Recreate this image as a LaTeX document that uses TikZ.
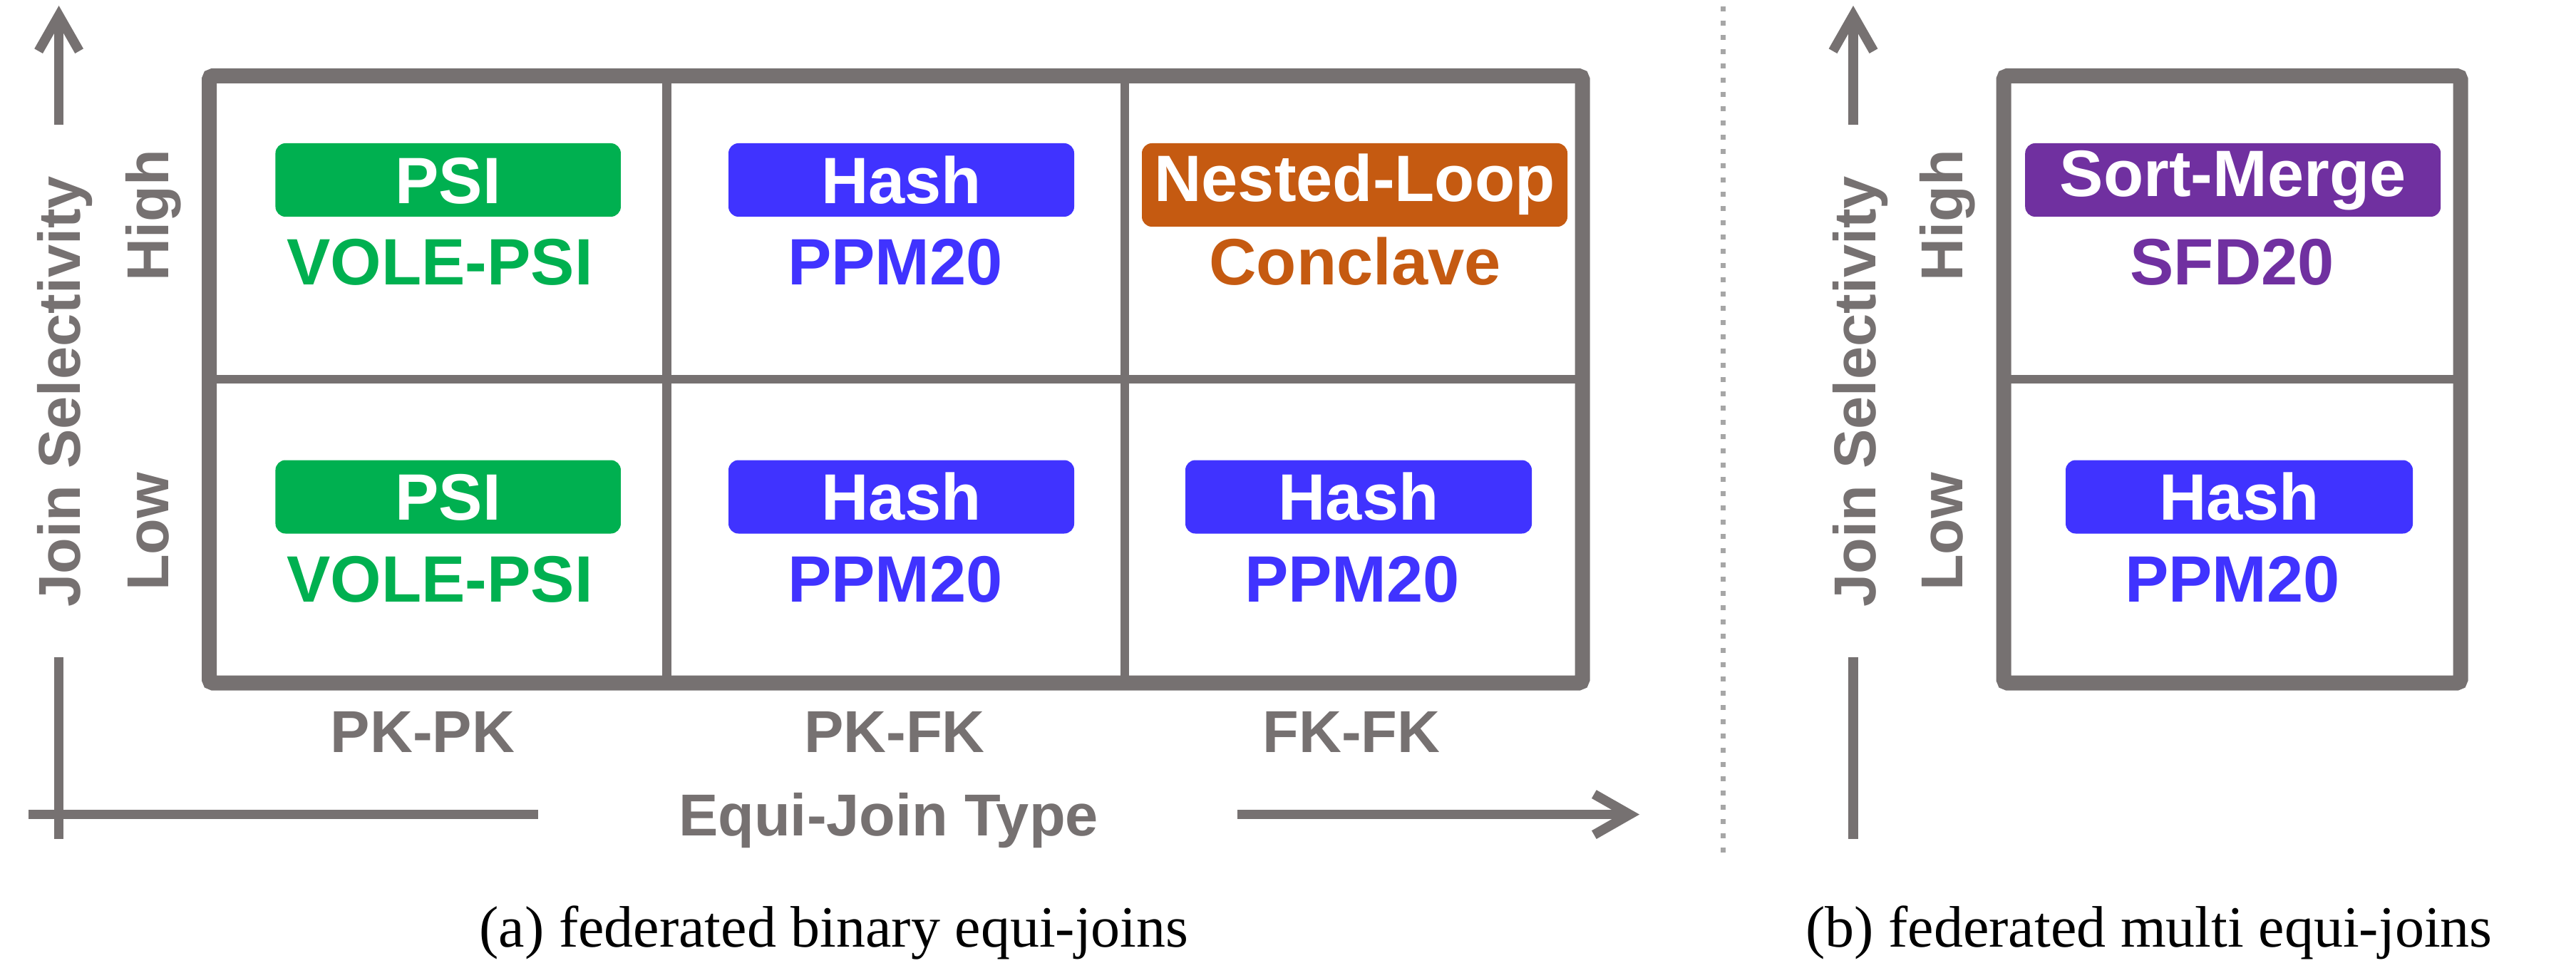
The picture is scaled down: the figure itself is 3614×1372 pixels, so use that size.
\documentclass[tikz,border=0pt]{standalone}
\usepackage{fontspec}
\setmainfont{Liberation Serif}
\newfontfamily\arialf{Liberation Sans}
\usetikzlibrary{arrows.meta}
\definecolor{axgray}{HTML}{767171}
\definecolor{sepgray}{HTML}{A6A6A6}
\definecolor{psigreen}{HTML}{00B050}
\definecolor{hashblue}{HTML}{4033FF}
\definecolor{nlorange}{HTML}{C55A11}
\definecolor{smpurple}{HTML}{7030A0}
\tikzset{
  algbox/.style={rounded corners=2.8pt, inner sep=0pt, text=white,
    font=\arialf\bfseries\fontsize{18.4pt}{18.4pt}\selectfont,
    text height=13.2pt, minimum height=20.6pt},
  mtext/.style={font=\arialf\bfseries\fontsize{18.4pt}{18.4pt}\selectfont,
    anchor=base, inner sep=0pt},
  axlabel/.style={font=\arialf\bfseries\fontsize{16.6pt}{16.6pt}\selectfont,
    text=axgray, inner sep=0pt, anchor=base},
  captext/.style={font=\fontsize{16.4pt}{16.4pt}\selectfont, inner sep=0pt, anchor=base},
  axline/.style={draw=axgray, line width=2.7pt},
  axarrow/.style={axline, -{Straight Barb[length=10pt,width=11.4pt]}},
  gridline/.style={draw=axgray, line width=2.5pt},
  outerbox/.style={draw=axgray, line width=4.2pt, rounded corners=1pt},
  sepline/.style={draw=sepgray, line width=1.4pt, dash pattern=on 1.4pt off 2.6pt}
}
\begin{document}
\begin{tikzpicture}[x=0.2pt,y=-0.2pt]
\fill[white] (0,0) rectangle (3614,1372);
\useasboundingbox (0,0) rectangle (3614,1372);

% ---- panel (a) grid ----
\draw[gridline] (935.5,106.5) -- (935.5,958);
\draw[gridline] (1578,106.5) -- (1578,958);
\draw[gridline] (293.5,532) -- (2220,532);
\draw[outerbox] (293.5,106.5) rectangle (2220,958);

% ---- panel (b) grid ----
\draw[gridline] (2811,532) -- (3452,532);
\draw[outerbox] (2811,106.5) rectangle (3452,958);

% ---- separator ----
\coordinate (sepT) at (2417,9);
\coordinate (sepB) at (2417,1208);
\draw[sepline] (sepT) -- (sepB);

% ---- axes (a) ----
\coordinate (yaL0) at (82.6,175);
\coordinate (yaL1) at (82.6,8);
\coordinate (ybL0) at (82.6,922);
\coordinate (ybL1) at (82.6,1177);
\coordinate (xaL0) at (40,1142.6);
\coordinate (xaL1) at (755,1142.6);
\coordinate (xbL0) at (1736,1142.6);
\coordinate (xbL1) at (2300,1142.6);
\draw[axarrow] (yaL0) -- (yaL1);
\draw[axline] (ybL0) -- (ybL1);
\draw[axline] (xaL0) -- (xaL1);
\draw[axarrow] (xbL0) -- (xbL1);

% ---- axes (b) ----
\coordinate (yaR0) at (2600,175);
\coordinate (yaR1) at (2600,8);
\coordinate (ybR0) at (2600,922);
\coordinate (ybR1) at (2600,1177);
\draw[axarrow] (yaR0) -- (yaR1);
\draw[axline] (ybR0) -- (ybR1);

% ---- boxes ----
\node[algbox, fill=psigreen, minimum width=96.9pt] (psiH) at (628.7,252.5) {PSI};
\node[algbox, fill=hashblue, minimum width=97pt] (hashHM) at (1264.5,252.5) {Hash};
\node[algbox, fill=nlorange, minimum width=119.4pt, minimum height=23.4pt] (nlH) at (1900.5,259.5) {Nested-Loop};
\node[algbox, fill=smpurple, minimum width=116.6pt] (smH) at (3132.7,252.5) {Sort-Merge};
\node[algbox, fill=psigreen, minimum width=96.9pt] (psiL) at (628.7,697) {PSI};
\node[algbox, fill=hashblue, minimum width=97pt] (hashLM) at (1264.5,697) {Hash};
\node[algbox, fill=hashblue, minimum width=97.2pt] (hashLR) at (1906,697) {Hash};
\node[algbox, fill=hashblue, minimum width=97.4pt] (hashR) at (3141.5,697) {Hash};

% ---- method names ----
\node[mtext, text=psigreen] (voleH) at (617,400) {VOLE-PSI};
\node[mtext, text=hashblue] (ppmHM) at (1256,400) {PPM20};
\node[mtext, text=nlorange] (concl) at (1901,400) {Conclave};
\node[mtext, text=smpurple] (sfd) at (3131.6,400) {SFD20};
\node[mtext, text=psigreen] (voleL) at (617,844) {VOLE-PSI};
\node[mtext, text=hashblue] (ppmLM) at (1256,844) {PPM20};
\node[mtext, text=hashblue] (ppmLR) at (1897,844) {PPM20};
\node[mtext, text=hashblue] (ppmR) at (3132,844) {PPM20};

% ---- axis labels ----
\node[axlabel] (pkpk) at (593,1055) {PK-PK};
\node[axlabel] (pkfk) at (1255,1055) {PK-FK};
\node[axlabel] (fkfk) at (1896,1055) {FK-FK};
\node[axlabel] (ejt) at (1246.5,1172.6) {Equi-Join Type};
\node[axlabel, rotate=90] (jsL) at (113,549) {Join Selectivity};
\node[axlabel, rotate=90] (hiL) at (236,302) {High};
\node[axlabel, rotate=90] (loL) at (236,746) {Low};
\node[axlabel, rotate=90] (jsR) at (2631,549) {Join Selectivity};
\node[axlabel, rotate=90] (hiR) at (2753,302) {High};
\node[axlabel, rotate=90] (loR) at (2753,746) {Low};

% ---- captions ----
\node[captext] (capA) at (1170,1328) {(a) federated binary equi-joins};
\node[captext] (capB) at (3015,1328) {(b) federated multi equi-joins};
\end{tikzpicture}
\end{document}
